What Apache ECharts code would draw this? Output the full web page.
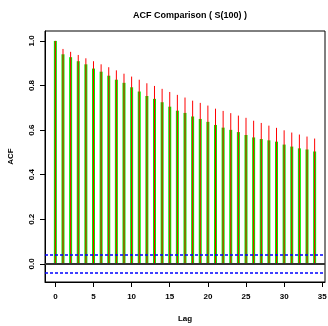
<!DOCTYPE html>
<html><head><meta charset="utf-8">
<script src="https://cdn.jsdelivr.net/npm/echarts@6/dist/echarts.min.js"></script>
<style>html,body{margin:0;padding:0;background:#fff}#c{width:328px;height:326px}</style>
</head><body><div id="c"></div>
<script>
const lags = [0,1,2,3,4,5,6,7,8,9,10,11,12,13,14,15,16,17,18,19,20,21,22,23,24,25,26,27,28,29,30,31,32,33,34];
const acfRed = [1.000,0.964,0.951,0.937,0.922,0.909,0.895,0.882,0.868,0.853,0.840,0.826,0.810,0.798,0.785,0.771,0.758,0.746,0.732,0.722,0.710,0.696,0.686,0.676,0.665,0.655,0.642,0.632,0.620,0.610,0.599,0.589,0.580,0.571,0.562];
const acfGreen = [1.000,0.940,0.927,0.909,0.895,0.876,0.862,0.844,0.826,0.812,0.792,0.773,0.753,0.740,0.725,0.705,0.687,0.677,0.661,0.650,0.637,0.623,0.611,0.601,0.591,0.578,0.567,0.560,0.554,0.548,0.535,0.526,0.518,0.513,0.504];
const ciBound = 0.037;
const xTicks = [0,5,10,15,20,25,30,35];
const yTicks = [0,0.2,0.4,0.6,0.8,1.0];

function stems(color, width) {
  return {
    type: 'custom',
    data: lags.map((l, i) => [l, (color === 'red' ? acfRed : acfGreen)[i]]),
    renderItem: function (params, api) {
      const p0 = api.coord([api.value(0), 0]);
      const p1 = api.coord([api.value(0), api.value(1)]);
      return { type: 'line', shape: { x1: p0[0], y1: p0[1], x2: p1[0], y2: p1[1] },
               style: { stroke: color === 'red' ? '#ff0000' : '#00ee00', lineWidth: width } };
    },
    silent: true, animation: false
  };
}

const chart = echarts.init(document.getElementById('c'), null, { renderer: 'canvas' });
chart.setOption({
  animation: false,
  title: { text: 'ACF Comparison ( S(100) )', left: 185, top: 6, textAlign: 'center',
    textStyle: { fontFamily: 'Liberation Sans', fontSize: 9, fontWeight: 'bold', color: '#000' } },
  grid: { left: 45, top: 31, width: 280, height: 251, outerBoundsMode: 'none', containLabel: false,
          show: true, borderColor: '#000', borderWidth: 1, backgroundColor: 'transparent' },
  xAxis: {
    type: 'value', min: -1.36, max: 35.36,
    name: 'Lag', nameLocation: 'middle', nameGap: 33,
    nameTextStyle: { fontFamily: 'Liberation Sans', fontSize: 8, fontWeight: 'bold', color: '#000' },
    axisLine: { show: true, onZero: false, lineStyle: { color: '#000' } },
    splitLine: { show: false },
    axisTick: { show: true, length: 5, customValues: xTicks, lineStyle: { color: '#000' } },
    axisLabel: { customValues: xTicks, margin: 11, fontFamily: 'Liberation Sans', fontSize: 8, fontWeight: 'bold', color: '#000', formatter: v => String(v) }
  },
  yAxis: {
    type: 'value', min: -0.0815, max: 1.0445,
    name: 'ACF', nameLocation: 'middle', nameGap: 30, nameRotate: 90,
    nameTextStyle: { fontFamily: 'Liberation Sans', fontSize: 8, fontWeight: 'bold', color: '#000' },
    axisLine: { show: true, onZero: false, lineStyle: { color: '#000' } },
    splitLine: { show: false },
    axisTick: { show: true, length: 5, customValues: yTicks, lineStyle: { color: '#000' } },
    axisLabel: { customValues: yTicks, rotate: 90, margin: 9, fontFamily: 'Liberation Sans', fontSize: 8, fontWeight: 'bold', color: '#000', formatter: v => v.toFixed(1) }
  },
  series: [
    stems('green', 3),
    stems('red', 1),
    {
      type: 'line', data: [], silent: true,
      markLine: {
        symbol: 'none', silent: true, label: { show: false },
        data: [
          { yAxis: 0, lineStyle: { color: '#333', width: 2, type: 'solid' } },
          { yAxis: ciBound, lineStyle: { color: '#0000ff', width: 1.5, type: [3, 2] } },
          { yAxis: -ciBound, lineStyle: { color: '#0000ff', width: 1.5, type: [3, 2] } }
        ]
      }
    }
  ]
});
</script></body></html>
